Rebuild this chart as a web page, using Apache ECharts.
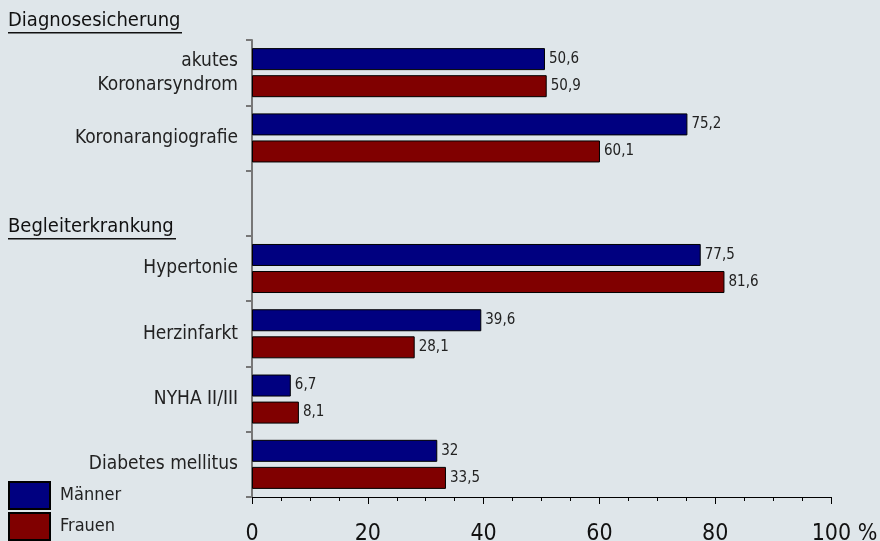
<!DOCTYPE html>
<html><head><meta charset="utf-8">
<script src="https://cdn.jsdelivr.net/npm/echarts@6/dist/echarts.min.js"></script>
<style>html,body{margin:0;padding:0;background:#dfe6ea;}#c{width:880px;height:541px;}</style>
</head><body><div id="c"></div>
<script>
var categories = ['akutes\nKoronarsyndrom', 'Koronarangiografie', '', 'Hypertonie', 'Herzinfarkt', 'NYHA II/III', 'Diabetes mellitus'];
var maenner = [50.6, 75.2, null, 77.5, 39.6, 6.7, 32];
var frauen = [50.9, 60.1, null, 81.6, 28.1, 8.1, 33.5];
var xTicks = [0, 20, 40, 60, 80, 100];
var sections = ['Diagnosesicherung', 'Begleiterkrankung'];
var seriesNames = ['Männer', 'Frauen'];

var chart = echarts.init(document.getElementById('c'));
var font = '"DejaVu Sans Condensed", "DejaVu Sans", sans-serif';
function fmt(v){ return String(v).replace('.', ','); }
function lbl(){ return {show:true, position:'right', distance:4, fontSize:15, color:'#222', fontFamily:font,
  formatter:function(p){ return p.value==null?'':fmt(p.value); }}; }
function leg(name, top){ return {orient:'vertical', left:8, top:top, padding:0, itemWidth:41, itemHeight:27,
    icon:'rect', textStyle:{fontSize:18, color:'#222', fontFamily:font, padding:[0,0,0,5]}, data:[name]}; }
chart.setOption({
  backgroundColor:'#dfe6ea',
  animation:false,
  grid:{left:252, right:49, top:40, bottom:44, containLabel:false, outerBoundsMode:'none'},
  legend:[leg(seriesNames[0], 481), leg(seriesNames[1], 512)],
  xAxis:{type:'value', min:0, max:100, interval:20,
    axisLine:{show:true, lineStyle:{color:'#000'}},
    axisTick:{show:true, length:7, lineStyle:{color:'#000'}},
    minorTick:{show:true, splitNumber:4, length:4, lineStyle:{color:'#000'}},
    splitLine:{show:false},
    axisLabel:{fontSize:23, color:'#111', fontFamily:font, margin:26,
      rich:{s:{width:27, fontSize:23, fontFamily:font}},
      formatter:function(v){ return xTicks.indexOf(v)>=0 ? (v===100?'{s|}100 %':String(v)) : ''; }}},
  yAxis:{type:'category', inverse:true, data:categories,
    axisLine:{show:true, lineStyle:{color:'#777', width:2}},
    axisTick:{show:true, length:6, lineStyle:{color:'#777', width:2}},
    axisLabel:{fontSize:19, color:'#222', fontFamily:font, margin:14, align:'right', lineHeight:24}},
  series:[
    {name:seriesNames[0], type:'bar', data:maenner, barWidth:22, barGap:'23%',
      itemStyle:{color:'#000080', borderColor:'#000', borderWidth:1}, label:lbl()},
    {name:seriesNames[1], type:'bar', data:frauen, barWidth:22,
      itemStyle:{color:'#800000', borderColor:'#000', borderWidth:1}, label:lbl()}
  ],
  graphic:[
    {type:'text', left:8, top:11, style:{text:sections[0], fontSize:20, fill:'#111', fontFamily:font}},
    {type:'rect', left:8, top:32, shape:{width:174, height:1.5}, style:{fill:'#111'}},
    {type:'text', left:8, top:217, style:{text:sections[1], fontSize:20, fill:'#111', fontFamily:font}},
    {type:'rect', left:8, top:238, shape:{width:168, height:1.5}, style:{fill:'#111'}}
  ]
});
</script></body></html>
